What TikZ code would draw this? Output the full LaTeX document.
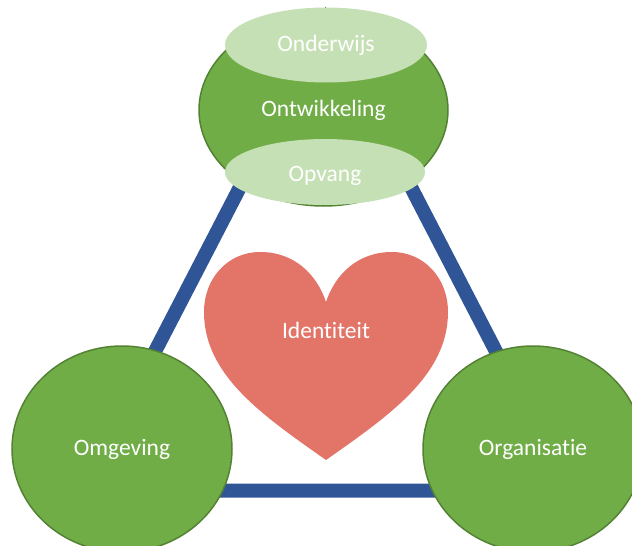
\documentclass[tikz,border=0pt]{standalone}
\usepackage{fontspec}
\setmainfont{Carlito}[Ligatures = NoCommon]
\usepackage{tikz}
\usetikzlibrary{shapes.geometric}
\definecolor{leafgreen}{RGB}{112,173,71}
\definecolor{darkleaf}{RGB}{84,130,53}
\definecolor{palegreen}{RGB}{197,224,180}
\definecolor{barblue}{RGB}{47,85,151}
\definecolor{heartred}{RGB}{227,116,104}
\tikzset{
pillar/.style = { ellipse, draw = darkleaf, line width = 1.5pt, fill = leafgreen, text = white, inner sep = 0pt },
layer/.style = { ellipse, draw = none, fill = palegreen, text = white, inner sep = 0pt },
bar/.style = { draw = barblue, line width = 14pt },
}

\begin{document}
\begin{tikzpicture}[x = 1pt, y = -1pt, font = \fontsize{23.5}{28}\selectfont]
    \useasboundingbox (0, 0) rectangle (632, 546);
    % triangle behind everything
    \coordinate (apex) at (325.5, 22);
    \coordinate (left corner) at (83, 490.5);
    \coordinate (right corner) at (568, 490.5);
    \draw[bar] (apex) -- (left corner) -- (right corner) -- cycle;
    % top
    \node[pillar, minimum width = 249pt, minimum height = 192pt] (ontwikkeling) at (323.5, 110) {Ontwikkeling};
    \node[layer, minimum width = 202pt, minimum height = 75pt] (onderwijs) at (326, 45) {Onderwijs};
    \node[layer, minimum width = 200pt, minimum height = 66pt] (opvang) at (325, 172) {};
    \node[text = white] (opvang text) at (325, 176) {Opvang};
    % corners
    \node[pillar, minimum width = 220pt, minimum height = 206pt] (omgeving) at (122, 449) {Omgeving};
    \node[pillar, minimum width = 220pt, minimum height = 206pt] (organisatie) at (533, 449) {Organisatie};
    % heart
    \fill[heartred] (326, 460) .. controls (262, 415) and (204, 375) .. (204, 312)
        .. controls (204, 278) and (228, 252) .. (260, 252)
        .. controls (295, 252) and (317, 275) .. (326, 302)
        .. controls (335, 275) and (357, 252) .. (392, 252)
        .. controls (424, 252) and (448, 278) .. (448, 312)
        .. controls (448, 375) and (390, 415) .. (326, 460) -- cycle;
    \node[text = white] (identiteit) at (326, 330) {Identiteit};
\end{tikzpicture}
\end{document}
